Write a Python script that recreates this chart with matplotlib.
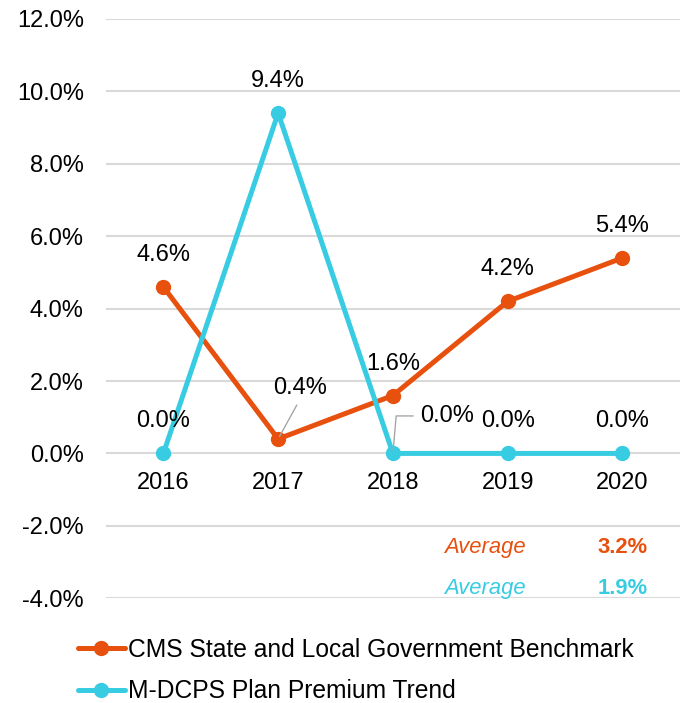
import matplotlib
matplotlib.use('Agg')
import matplotlib.pyplot as plt
import numpy as np

plt.rcParams['font.family'] = ['Liberation Sans', 'DejaVu Sans']
plt.rcParams['font.size'] = 17

# data
years = ['2016', '2017', '2018', '2019', '2020']
cms = [4.6, 0.4, 1.6, 4.2, 5.4]
mdcps = [0.0, 9.4, 0.0, 0.0, 0.0]
cms_name = 'CMS State and Local Government Benchmark'
mdcps_name = 'M-DCPS Plan Premium Trend'
y_ticks = [-4, -2, 0, 2, 4, 6, 8, 10, 12]

orange = '#E8500E'
cyan = '#38CCE3'
grid_c = '#D9D9D9'

fig = plt.figure(figsize=(6.86, 7.03), dpi=100)
ax = fig.add_axes([0.1545, 0.149, 0.8365, 0.824])

x = np.arange(len(years))
ax.plot(x, cms, color=orange, lw=3.6, marker='o', ms=10, label=cms_name, zorder=3,
        solid_capstyle='round')
ax.plot(x, mdcps, color=cyan, lw=3.6, marker='o', ms=10, label=mdcps_name, zorder=3,
        solid_capstyle='round')

ax.set_xlim(-0.5, len(years) - 0.5)
ax.set_ylim(-4, 12)
ax.set_yticks(y_ticks)
ax.set_yticklabels([f'{v:.1f}%' for v in y_ticks])
ax.tick_params(axis='y', length=0, pad=16)
ax.set_xticks([])
for s in ax.spines.values():
    s.set_visible(False)
ax.grid(axis='y', color=grid_c, lw=1.5)
ax.set_axisbelow(True)

# year labels sitting under the zero line
for i, yr in enumerate(years):
    ax.annotate(yr, (i, 0), xytext=(0, -21), textcoords='offset points',
                ha='center', va='center')

# data labels
for i, v in enumerate(cms):
    if i == 1:
        ax.annotate(f'{v:.1f}%', (i, v), xytext=(16, 37), textcoords='offset points',
                    ha='center', va='center',
                    arrowprops=dict(arrowstyle='-', color='#A6A6A6', lw=1,
                                    shrinkA=3, shrinkB=2,
                                    relpos=(0.5, 0)))
    else:
        ax.annotate(f'{v:.1f}%', (i, v), xytext=(0, 23), textcoords='offset points',
                    ha='center', va='center')
for i, v in enumerate(mdcps):
    if i == 2:
        ax.annotate(f'{v:.1f}%', (i, v), xytext=(39, 27), textcoords='offset points',
                    ha='center', va='center',
                    arrowprops=dict(arrowstyle='-', color='#A6A6A6', lw=1,
                                    shrinkA=3, shrinkB=2,
                                    connectionstyle='angle,angleA=180,angleB=85,rad=0',
                                    relpos=(0, 0.5)))
    else:
        ax.annotate(f'{v:.1f}%', (i, v), xytext=(0, 23), textcoords='offset points',
                    ha='center', va='center')

# averages
avg_fs = 15.8
ax.text(0.66, 0.088, 'Average', transform=ax.transAxes, color=orange, fontsize=avg_fs,
        style='italic', ha='center', va='center')
ax.text(0.944, 0.088, f'{np.mean(cms):.1f}%', transform=ax.transAxes, color=orange,
        fontsize=avg_fs, weight='bold', ha='right', va='center')
ax.text(0.66, 0.017, 'Average', transform=ax.transAxes, color=cyan, fontsize=avg_fs,
        style='italic', ha='center', va='center')
ax.text(0.944, 0.017, f'{np.mean(mdcps):.1f}%', transform=ax.transAxes, color=cyan,
        fontsize=avg_fs, weight='bold', ha='right', va='center')

fig.legend(loc='upper left', bbox_to_anchor=(0.113, 0.093), frameon=False,
           fontsize=17.7, handlelength=1.95, handletextpad=0.12, labelspacing=0.72,
           borderaxespad=0, borderpad=0)

fig.savefig('out.png', dpi=100)
